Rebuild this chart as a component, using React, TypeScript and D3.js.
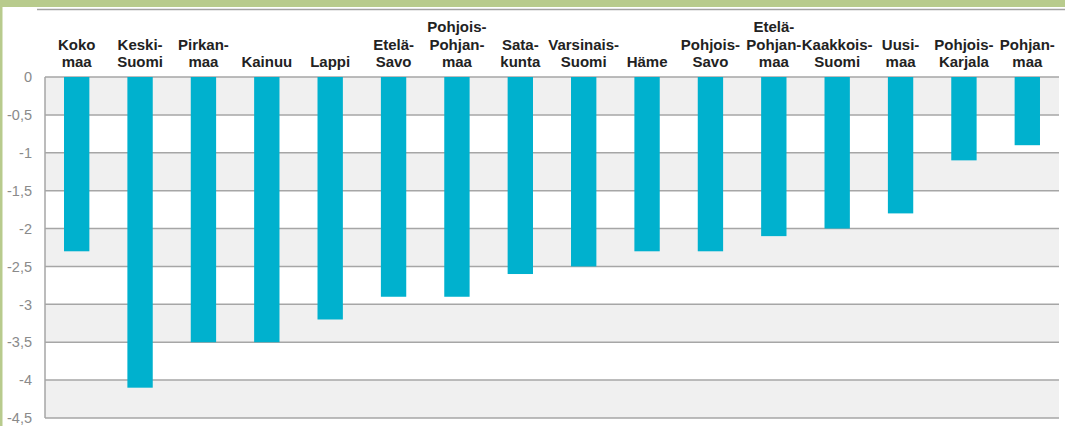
import React, { useRef, useEffect } from "react";
import * as d3 from "d3";

// regions, "\n" marks where the label wraps
const regions = [
  "Koko\nmaa",
  "Keski-\nSuomi",
  "Pirkan-\nmaa",
  "Kainuu",
  "Lappi",
  "Etelä-\nSavo",
  "Pohjois-\nPohjan-\nmaa",
  "Sata-\nkunta",
  "Varsinais-\nSuomi",
  "Häme",
  "Pohjois-\nSavo",
  "Etelä-\nPohjan-\nmaa",
  "Kaakkois-\nSuomi",
  "Uusi-\nmaa",
  "Pohjois-\nKarjala",
  "Pohjan-\nmaa",
];
const change = [
  -2.3, -4.1, -3.5, -3.5, -3.2, -2.9, -2.9, -2.6, -2.5, -2.3, -2.3, -2.1, -2.0,
  -1.8, -1.1, -0.9,
];
const yTicks = [0, -0.5, -1, -1.5, -2, -2.5, -3, -3.5, -4, -4.5];

const W = 1065;
const H = 426;

const App = () => {
  const ref = useRef(null);

  useEffect(() => {
    const svg = d3.select(ref.current);
    svg.selectAll("*").remove();
    svg.attr("width", W).attr("height", H).style("background", "#fff");

    const x = d3
      .scaleBand()
      .domain(regions)
      .range([45, 1059])
      .paddingInner(0.6)
      .paddingOuter(0.3);
    const y = d3.scaleLinear().domain([0, -4.5]).range([77, 418]);

    // frame
    svg.append("rect").attr("x", 0).attr("y", 0).attr("width", W).attr("height", 7).attr("fill", "#b8cb8d");
    svg.append("rect").attr("x", 0).attr("y", 0).attr("width", 2.5).attr("height", H).attr("fill", "#b8cb8d");
    svg
      .append("line")
      .attr("x1", 37)
      .attr("x2", W)
      .attr("y1", 9.5)
      .attr("y2", 9.5)
      .attr("stroke", "#a3a3a3")
      .attr("stroke-width", 1.5);

    const g = svg.append("g");

    // alternating grey bands
    const bands = yTicks.slice(0, -1).filter((_, i) => i % 2 === 0);
    g.selectAll("rect.band")
      .data(bands)
      .enter()
      .append("rect")
      .attr("class", "band")
      .attr("x", 45)
      .attr("width", 1059 - 45)
      .attr("y", (d) => y(d))
      .attr("height", (d) => y(d - 0.5) - y(d))
      .attr("fill", "#f0f0f0");

    // gridlines
    g.selectAll("line.grid")
      .data(yTicks)
      .enter()
      .append("line")
      .attr("x1", 45)
      .attr("x2", 1059)
      .attr("y1", (d) => y(d))
      .attr("y2", (d) => y(d))
      .attr("stroke", "#a6a6a6")
      .attr("stroke-width", 1.5);

    g.append("line")
      .attr("x1", 45)
      .attr("x2", 45)
      .attr("y1", y(0))
      .attr("y2", y(-4.5))
      .attr("stroke", "#a6a6a6")
      .attr("stroke-width", 1.5);

    // y tick labels
    g.selectAll("text.ytick")
      .data(yTicks)
      .enter()
      .append("text")
      .attr("x", 32)
      .attr("y", (d) => y(d))
      .attr("dy", "0.36em")
      .attr("text-anchor", "end")
      .attr("font-family", "Arial, 'Liberation Sans', sans-serif")
      .attr("font-size", 14.5)
      .attr("fill", "#8a8a8a")
      .text((d) => String(d).replace(".", ","));

    // bars
    g.selectAll("rect.bar")
      .data(change)
      .enter()
      .append("rect")
      .attr("class", "bar")
      .attr("x", (_, i) => x(regions[i]))
      .attr("width", x.bandwidth())
      .attr("y", y(0))
      .attr("height", (d) => y(d) - y(0))
      .attr("fill", "#00b1ce");

    // category labels, bottom line sits on a common baseline
    regions.forEach((r) => {
      const lines = r.split("\n");
      const t = g
        .append("text")
        .attr("text-anchor", "middle")
        .attr("font-family", "Arial, 'Liberation Sans', sans-serif")
        .attr("font-weight", "bold")
        .attr("font-size", 15)
        .attr("fill", "#222");
      lines.forEach((line, j) => {
        t.append("tspan")
          .attr("x", x(r) + x.bandwidth() / 2)
          .attr("y", 67 - (lines.length - 1 - j) * 17.5)
          .text(line);
      });
    });
  }, []);

  return (
    <div style={{ position: "fixed", left: 0, top: 0 }}>
      <svg ref={ref} style={{ display: "block" }}></svg>
    </div>
  );
};

export default App;
